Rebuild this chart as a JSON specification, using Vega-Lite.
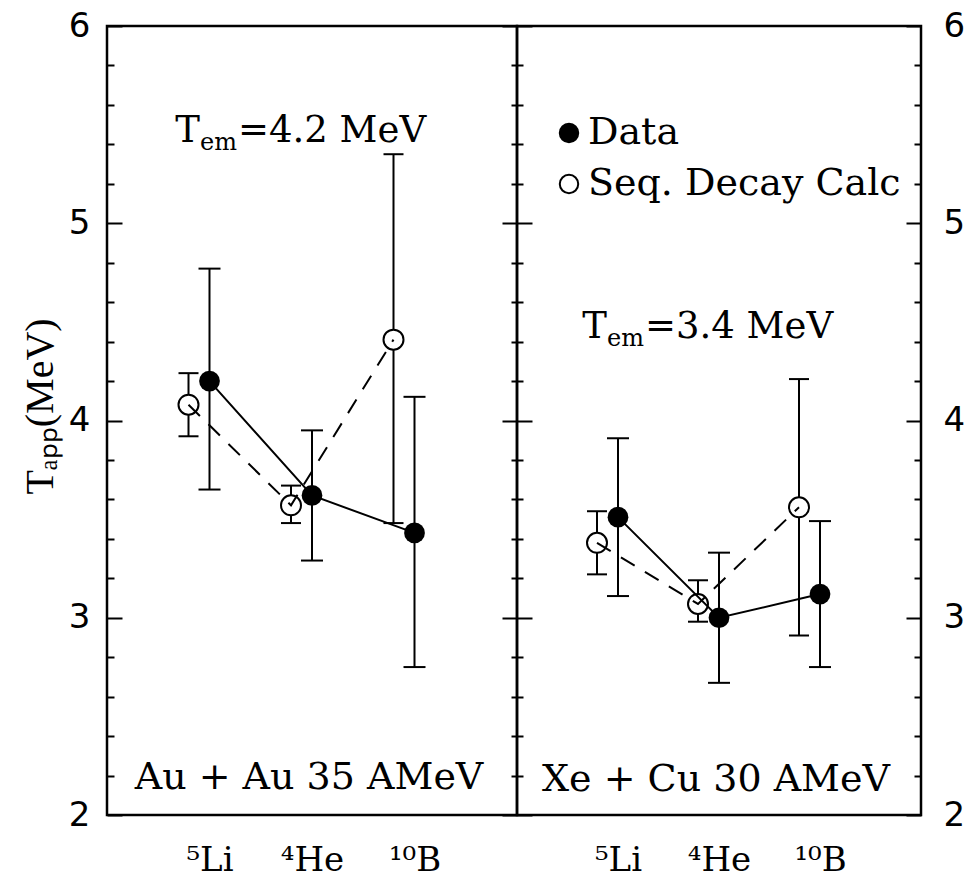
{
  "$schema": "https://vega.github.io/schema/vega-lite/v6.json",
  "background": "white",
  "padding": {"left": 19, "top": 7, "right": 5, "bottom": 0},
  "bounds": "flush",
  "spacing": 0,
  "resolve": {"scale": {"fill": "independent"}, "legend": {"fill": "independent"}},
  "config": {
    "view": {"stroke": "black", "strokeWidth": 2.5},
    "axis": {"domain": false, "grid": false, "tickColor": "black", "tickWidth": 2, "labelColor": "black", "titleColor": "black"}
  },
  "datasets": {
    "au": [
      {"particle": "⁵Li", "series": "Data", "T": 4.20, "lo": 3.65, "hi": 4.77},
      {"particle": "⁴He", "series": "Data", "T": 3.62, "lo": 3.29, "hi": 3.95},
      {"particle": "¹⁰B", "series": "Data", "T": 3.43, "lo": 2.75, "hi": 4.12},
      {"particle": "⁵Li", "series": "Seq. Decay Calc", "T": 4.08, "lo": 3.92, "hi": 4.24},
      {"particle": "⁴He", "series": "Seq. Decay Calc", "T": 3.57, "lo": 3.48, "hi": 3.67},
      {"particle": "¹⁰B", "series": "Seq. Decay Calc", "T": 4.41, "lo": 3.48, "hi": 5.35}
    ],
    "xe": [
      {"particle": "⁵Li", "series": "Data", "T": 3.51, "lo": 3.11, "hi": 3.91},
      {"particle": "⁴He", "series": "Data", "T": 3.00, "lo": 2.67, "hi": 3.33},
      {"particle": "¹⁰B", "series": "Data", "T": 3.12, "lo": 2.75, "hi": 3.49},
      {"particle": "⁵Li", "series": "Seq. Decay Calc", "T": 3.38, "lo": 3.22, "hi": 3.54},
      {"particle": "⁴He", "series": "Seq. Decay Calc", "T": 3.07, "lo": 2.98, "hi": 3.19},
      {"particle": "¹⁰B", "series": "Seq. Decay Calc", "T": 3.56, "lo": 2.91, "hi": 4.21}
    ]
  },
  "hconcat": [
    {
      "width": 410,
      "height": 789,
      "data": {"name": "au"},
      "resolve": {"axis": {"y": "independent"}},
      "encoding": {
        "x": {"field": "particle", "type": "nominal",
          "scale": {"type": "point", "padding": 1, "domain": ["⁵Li", "⁴He", "¹⁰B"]},
          "axis": {"orient": "bottom", "ticks": false, "domain": false, "labelPadding": 55, "labelBaseline": "alphabetic", "labelFont": "DejaVu Serif", "labelFontSize": 34, "labelAngle": 0, "title": null}}
      },
      "layer": [
        {"transform": [{"filter": {"field": "series", "equal": "Data"}}],
         "mark": {"type": "rule", "strokeWidth": 2, "color": "black"},
         "encoding": {"y": {"field": "lo", "type": "quantitative", "scale": {"domain": [2, 6], "nice": false, "zero": false},
            "axis": {"orient": "left", "values": [2, 3, 4, 5, 6], "format": "d", "ticks": false, "labelPadding": 17, "labelFont": "DejaVu Sans", "labelFontSize": 34, "labelFlush": false, "labelOverlap": false, "title": "Tₐₚₚ(MeV)", "titleFont": "Liberation Serif", "titleFontSize": 40, "titleFontWeight": "normal", "titlePadding": 8, "titleY": 380}},
           "y2": {"field": "hi"}}},
        {"transform": [{"filter": {"field": "series", "equal": "Data"}}],
         "mark": {"type": "tick", "orient": "horizontal", "size": 22, "thickness": 2, "color": "black", "opacity": 1},
         "encoding": {"y": {"field": "lo", "type": "quantitative", "scale": {"domain": [2, 6], "nice": false, "zero": false},
            "axis": {"orient": "left", "values": [2, 3, 4, 5, 6], "labels": false, "tickSize": 15, "offset": -15, "title": null}}}},
        {"transform": [{"filter": {"field": "series", "equal": "Data"}}],
         "mark": {"type": "tick", "orient": "horizontal", "size": 22, "thickness": 2, "color": "black", "opacity": 1},
         "encoding": {"y": {"field": "hi", "type": "quantitative", "scale": {"domain": [2, 6], "nice": false, "zero": false},
            "axis": {"orient": "left", "values": [2.2, 2.4, 2.6, 2.8, 3.2, 3.4, 3.6, 3.8, 4.2, 4.4, 4.6, 4.8, 5.2, 5.4, 5.6, 5.8], "labels": false, "tickSize": 7, "offset": -7, "title": null}}}},
        {"transform": [{"filter": {"field": "series", "equal": "Seq. Decay Calc"}}],
         "mark": {"type": "rule", "strokeWidth": 2, "color": "black", "xOffset": -21},
         "encoding": {"y": {"field": "lo", "type": "quantitative", "scale": {"domain": [2, 6], "nice": false, "zero": false},
            "axis": {"orient": "right", "values": [2, 3, 4, 5, 6], "labels": false, "tickSize": 30, "offset": -15, "title": null}},
           "y2": {"field": "hi"}}},
        {"transform": [{"filter": {"field": "series", "equal": "Seq. Decay Calc"}}],
         "mark": {"type": "tick", "orient": "horizontal", "size": 20, "thickness": 2, "color": "black", "opacity": 1, "xOffset": -21},
         "encoding": {"y": {"field": "lo", "type": "quantitative", "scale": {"domain": [2, 6], "nice": false, "zero": false},
            "axis": {"orient": "right", "values": [2.2, 2.4, 2.6, 2.8, 3.2, 3.4, 3.6, 3.8, 4.2, 4.4, 4.6, 4.8, 5.2, 5.4, 5.6, 5.8], "labels": false, "tickSize": 12, "offset": -6, "title": null}}}},
        {"transform": [{"filter": {"field": "series", "equal": "Seq. Decay Calc"}}],
         "mark": {"type": "tick", "orient": "horizontal", "size": 20, "thickness": 2, "color": "black", "opacity": 1, "xOffset": -21},
         "encoding": {"y": {"field": "hi", "type": "quantitative", "scale": {"domain": [2, 6], "nice": false, "zero": false}, "axis": null}}},
        {"transform": [{"filter": {"field": "series", "equal": "Seq. Decay Calc"}}],
         "mark": {"type": "point", "shape": "circle", "size": 400, "filled": true, "fill": "white", "stroke": "black", "strokeWidth": 2, "opacity": 1, "xOffset": -21},
         "encoding": {"y": {"field": "T", "type": "quantitative", "scale": {"domain": [2, 6], "nice": false, "zero": false}, "axis": null}}},
        {"transform": [{"filter": {"field": "series", "equal": "Seq. Decay Calc"}}],
         "mark": {"type": "line", "strokeWidth": 2, "color": "black", "strokeDash": [16, 12], "xOffset": -21},
         "encoding": {"y": {"field": "T", "type": "quantitative", "scale": {"domain": [2, 6], "nice": false, "zero": false}, "axis": null}}},
        {"transform": [{"filter": {"field": "series", "equal": "Data"}}],
         "mark": {"type": "line", "strokeWidth": 2, "color": "black"},
         "encoding": {"y": {"field": "T", "type": "quantitative", "scale": {"domain": [2, 6], "nice": false, "zero": false}, "axis": null}}},
        {"transform": [{"filter": {"field": "series", "equal": "Data"}}],
         "mark": {"type": "point", "shape": "circle", "size": 430, "filled": true, "color": "black", "opacity": 1},
         "encoding": {"y": {"field": "T", "type": "quantitative", "scale": {"domain": [2, 6], "nice": false, "zero": false}, "axis": null}}},
        {"data": {"values": [{}]},
         "mark": {"type": "text", "text": "T", "font": "DejaVu Serif", "fontSize": 37, "color": "black", "align": "right", "baseline": "alphabetic", "dx": -112},
         "encoding": {"x": {"datum": "⁴He", "type": "nominal"}, "y": {"datum": 5.41, "type": "quantitative", "scale": {"domain": [2, 6], "nice": false, "zero": false}, "axis": null}}},
        {"data": {"values": [{}]},
         "mark": {"type": "text", "text": "em", "font": "DejaVu Serif", "fontSize": 24, "color": "black", "align": "left", "baseline": "alphabetic", "dx": -112, "dy": 8},
         "encoding": {"x": {"datum": "⁴He", "type": "nominal"}, "y": {"datum": 5.41, "type": "quantitative", "scale": {"domain": [2, 6], "nice": false, "zero": false}, "axis": null}}},
        {"data": {"values": [{}]},
         "mark": {"type": "text", "text": "=4.2 MeV", "font": "DejaVu Serif", "fontSize": 37, "color": "black", "align": "left", "baseline": "alphabetic", "dx": -74},
         "encoding": {"x": {"datum": "⁴He", "type": "nominal"}, "y": {"datum": 5.41, "type": "quantitative", "scale": {"domain": [2, 6], "nice": false, "zero": false}, "axis": null}}},
        {"data": {"values": [{}]},
         "mark": {"type": "text", "text": "Au + Au 35 AMeV", "font": "DejaVu Serif", "fontSize": 38, "color": "black", "align": "center", "baseline": "alphabetic", "dx": -3},
         "encoding": {"x": {"datum": "⁴He", "type": "nominal"}, "y": {"datum": 2.13, "type": "quantitative", "scale": {"domain": [2, 6], "nice": false, "zero": false}, "axis": null}}}
      ]
    },
    {
      "width": 404,
      "height": 789,
      "data": {"name": "xe"},
      "resolve": {"axis": {"y": "independent"}},
      "encoding": {
        "x": {"field": "particle", "type": "nominal",
          "scale": {"type": "point", "padding": 1, "domain": ["⁵Li", "⁴He", "¹⁰B"]},
          "axis": {"orient": "bottom", "ticks": false, "domain": false, "labelPadding": 55, "labelBaseline": "alphabetic", "labelFont": "DejaVu Serif", "labelFontSize": 34, "labelAngle": 0, "title": null}}
      },
      "layer": [
        {"transform": [{"filter": {"field": "series", "equal": "Data"}}],
         "mark": {"type": "rule", "strokeWidth": 2, "color": "black"},
         "encoding": {"y": {"field": "lo", "type": "quantitative", "scale": {"domain": [2, 6], "nice": false, "zero": false},
            "axis": {"orient": "right", "values": [2, 3, 4, 5, 6], "format": "d", "ticks": false, "labelPadding": 22, "labelFont": "DejaVu Sans", "labelFontSize": 34, "labelFlush": false, "labelOverlap": false, "title": null}},
           "y2": {"field": "hi"}}},
        {"transform": [{"filter": {"field": "series", "equal": "Data"}}],
         "mark": {"type": "tick", "orient": "horizontal", "size": 22, "thickness": 2, "color": "black", "opacity": 1},
         "encoding": {"y": {"field": "lo", "type": "quantitative", "scale": {"domain": [2, 6], "nice": false, "zero": false},
            "axis": {"orient": "right", "values": [2, 3, 4, 5, 6], "labels": false, "tickSize": 15, "offset": -15, "title": null}}}},
        {"transform": [{"filter": {"field": "series", "equal": "Data"}}],
         "mark": {"type": "tick", "orient": "horizontal", "size": 22, "thickness": 2, "color": "black", "opacity": 1},
         "encoding": {"y": {"field": "hi", "type": "quantitative", "scale": {"domain": [2, 6], "nice": false, "zero": false},
            "axis": {"orient": "right", "values": [2.2, 2.4, 2.6, 2.8, 3.2, 3.4, 3.6, 3.8, 4.2, 4.4, 4.6, 4.8, 5.2, 5.4, 5.6, 5.8], "labels": false, "tickSize": 7, "offset": -7, "title": null}}}},
        {"transform": [{"filter": {"field": "series", "equal": "Seq. Decay Calc"}}],
         "mark": {"type": "rule", "strokeWidth": 2, "color": "black", "xOffset": -21},
         "encoding": {"y": {"field": "lo", "type": "quantitative", "scale": {"domain": [2, 6], "nice": false, "zero": false}, "axis": null},
           "y2": {"field": "hi"}}},
        {"transform": [{"filter": {"field": "series", "equal": "Seq. Decay Calc"}}],
         "mark": {"type": "tick", "orient": "horizontal", "size": 20, "thickness": 2, "color": "black", "opacity": 1, "xOffset": -21},
         "encoding": {"y": {"field": "lo", "type": "quantitative", "scale": {"domain": [2, 6], "nice": false, "zero": false}, "axis": null}}},
        {"transform": [{"filter": {"field": "series", "equal": "Seq. Decay Calc"}}],
         "mark": {"type": "tick", "orient": "horizontal", "size": 20, "thickness": 2, "color": "black", "opacity": 1, "xOffset": -21},
         "encoding": {"y": {"field": "hi", "type": "quantitative", "scale": {"domain": [2, 6], "nice": false, "zero": false}, "axis": null}}},
        {"transform": [{"filter": {"field": "series", "equal": "Seq. Decay Calc"}}],
         "mark": {"type": "point", "shape": "circle", "size": 400, "filled": true, "stroke": "black", "strokeWidth": 2, "opacity": 1, "xOffset": -21},
         "encoding": {"y": {"field": "T", "type": "quantitative", "scale": {"domain": [2, 6], "nice": false, "zero": false}, "axis": null},
           "fill": {"field": "series", "type": "nominal", "scale": {"domain": ["Data", "Seq. Decay Calc"], "range": ["black", "white"]},
             "legend": {"orient": "none", "legendX": 33, "legendY": 88, "title": null, "symbolType": "circle", "symbolSize": 340, "symbolStrokeColor": "black", "symbolStrokeWidth": 2, "labelFont": "DejaVu Serif", "labelFontSize": 38, "labelColor": "black", "labelOffset": 0, "rowPadding": 13, "labelLimit": 400}}}},
        {"transform": [{"filter": {"field": "series", "equal": "Seq. Decay Calc"}}],
         "mark": {"type": "line", "strokeWidth": 2, "color": "black", "strokeDash": [16, 12], "xOffset": -21},
         "encoding": {"y": {"field": "T", "type": "quantitative", "scale": {"domain": [2, 6], "nice": false, "zero": false}, "axis": null}}},
        {"transform": [{"filter": {"field": "series", "equal": "Data"}}],
         "mark": {"type": "line", "strokeWidth": 2, "color": "black"},
         "encoding": {"y": {"field": "T", "type": "quantitative", "scale": {"domain": [2, 6], "nice": false, "zero": false}, "axis": null}}},
        {"transform": [{"filter": {"field": "series", "equal": "Data"}}],
         "mark": {"type": "point", "shape": "circle", "size": 430, "filled": true, "opacity": 1},
         "encoding": {"y": {"field": "T", "type": "quantitative", "scale": {"domain": [2, 6], "nice": false, "zero": false}, "axis": null},
           "fill": {"field": "series", "type": "nominal", "scale": {"domain": ["Data", "Seq. Decay Calc"], "range": ["black", "white"]}}}},
        {"data": {"values": [{}]},
         "mark": {"type": "text", "text": "T", "font": "DejaVu Serif", "fontSize": 37, "color": "black", "align": "right", "baseline": "alphabetic", "dx": -112},
         "encoding": {"x": {"datum": "⁴He", "type": "nominal"}, "y": {"datum": 4.42, "type": "quantitative", "scale": {"domain": [2, 6], "nice": false, "zero": false}, "axis": null}}},
        {"data": {"values": [{}]},
         "mark": {"type": "text", "text": "em", "font": "DejaVu Serif", "fontSize": 24, "color": "black", "align": "left", "baseline": "alphabetic", "dx": -112, "dy": 8},
         "encoding": {"x": {"datum": "⁴He", "type": "nominal"}, "y": {"datum": 4.42, "type": "quantitative", "scale": {"domain": [2, 6], "nice": false, "zero": false}, "axis": null}}},
        {"data": {"values": [{}]},
         "mark": {"type": "text", "text": "=3.4 MeV", "font": "DejaVu Serif", "fontSize": 37, "color": "black", "align": "left", "baseline": "alphabetic", "dx": -74},
         "encoding": {"x": {"datum": "⁴He", "type": "nominal"}, "y": {"datum": 4.42, "type": "quantitative", "scale": {"domain": [2, 6], "nice": false, "zero": false}, "axis": null}}},
        {"data": {"values": [{}]},
         "mark": {"type": "text", "text": "Xe + Cu 30 AMeV", "font": "DejaVu Serif", "fontSize": 38, "color": "black", "align": "center", "baseline": "alphabetic", "dx": -3},
         "encoding": {"x": {"datum": "⁴He", "type": "nominal"}, "y": {"datum": 2.12, "type": "quantitative", "scale": {"domain": [2, 6], "nice": false, "zero": false}, "axis": null}}}
      ]
    }
  ]
}
